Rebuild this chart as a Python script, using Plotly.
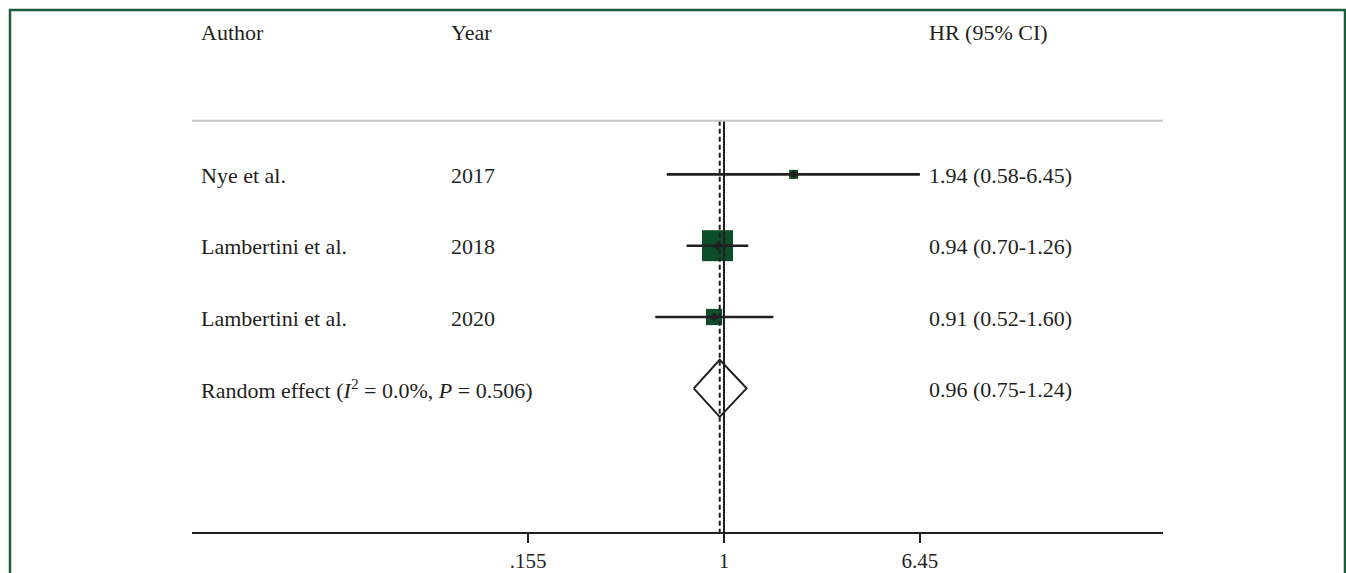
import plotly.graph_objects as go
import math

# ---- data ----
authors = ["Nye et al.", "Lambertini et al.", "Lambertini et al."]
years = ["2017", "2018", "2020"]
hr = [1.94, 0.94, 0.91]
lo = [0.58, 0.70, 0.52]
hi = [6.45, 1.26, 1.60]
weights = [4.5, 75.0, 20.6]
pooled_label = "Random effect (<i>I</i><sup>2</sup> = 0.0%, <i>P</i> = 0.506)"
pooled = [0.96, 0.75, 1.24]
tick_vals = [0.155, 1, 6.45]
tick_text = [".155", "1", "6.45"]
headers = ["Author", "Year", "HR (95% CI)"]

FONT = "Liberation Serif"
TXT = "#231f20"
GREEN = "#0b4f2a"
BORDER = "#1d5e3a"

W, H = 1346, 573
L, R, T, B = 192, 183, 0, 36
pw = W - L - R
ph = H - T - B
X1PX = 724.0      # pixel of HR = 1
PXDEC = 242.0     # pixels per decade
ROWPX = 72.0
ROW0 = 176.0
ytop = -ROW0 / ROWPX
ybot = (ph - ROW0) / ROWPX

def xp(px):
    return (px - L) / pw

def yp(py):
    return (H - B - py) / ph

rows = list(range(len(hr)))
prow = len(hr)

fig = go.Figure()

# squares (weighted)
sizes = [max(9, 3.58 * math.sqrt(w)) for w in weights]
fig.add_trace(go.Scatter(x=hr, y=rows, mode="markers",
                         marker=dict(symbol="square", size=sizes, color=GREEN, opacity=1,
                                     line=dict(width=0)),
                         hoverinfo="skip", showlegend=False))
# CI lines
cx, cy = [], []
for i in rows:
    cx += [lo[i], hi[i], None]
    cy += [i, i, None]
fig.add_trace(go.Scatter(x=cx, y=cy, mode="lines", line=dict(color=TXT, width=2.6),
                         hoverinfo="skip", showlegend=False))
# point estimates
fig.add_trace(go.Scatter(x=hr, y=rows, mode="markers",
                         marker=dict(symbol="diamond", size=7, color=TXT, opacity=1),
                         hoverinfo="skip", showlegend=False))
# pooled diamond
est, plo, phi = pooled
fig.add_trace(go.Scatter(x=[plo, est, phi, est, plo], y=[prow, prow - 0.4, prow, prow + 0.4, prow],
                         mode="lines", line=dict(color=TXT, width=2),
                         hoverinfo="skip", showlegend=False))

# vertical lines (shapes on log axis take data values)
fig.add_shape(type="line", xref="x", yref="y", x0=1, x1=1, y0=-0.75, y1=ybot,
              line=dict(color=TXT, width=2))
fig.add_shape(type="line", xref="x", yref="y", x0=est, x1=est, y0=-0.75, y1=ybot,
              line=dict(color=TXT, width=2, dash="5px,3px"))
# gray separator
fig.add_shape(type="line", xref="paper", yref="y", x0=0, x1=1, y0=-0.75, y1=-0.75,
              line=dict(color="#c8c8c8", width=2))
# green frame
fig.add_shape(type="rect", xref="paper", yref="paper", x0=xp(10), x1=xp(1345), y0=yp(590), y1=yp(10),
              line=dict(color=BORDER, width=2.5), fillcolor="rgba(0,0,0,0)", layer="above")

# text columns
ann = []
col_x = [xp(199), xp(449), xp(927)]
for j, h in enumerate(headers):
    ann.append(dict(x=col_x[j], y=-2, text=h))
for i in rows:
    ann.append(dict(x=col_x[0], y=i, text=authors[i]))
    ann.append(dict(x=col_x[1], y=i, text=years[i]))
    ann.append(dict(x=col_x[2], y=i, text=f"{hr[i]:.2f} ({lo[i]:.2f}-{hi[i]:.2f})"))
ann.append(dict(x=col_x[0], y=prow, text=pooled_label))
ann.append(dict(x=col_x[2], y=prow, text=f"{est:.2f} ({plo:.2f}-{phi:.2f})"))
for a in ann:
    a.update(xref="paper", yref="y", xanchor="left", yanchor="middle", showarrow=False, yshift=-1,
             font=dict(family=FONT, size=22, color=TXT))
fig.update_layout(annotations=ann)

xmin = -(X1PX - L) / PXDEC
xmax = (L + pw - X1PX) / PXDEC
fig.update_layout(
    width=W, height=H, margin=dict(l=L, r=R, t=T, b=B),
    paper_bgcolor="white", plot_bgcolor="white",
    xaxis=dict(type="log", range=[xmin, xmax], tickvals=tick_vals, ticktext=tick_text,
               showgrid=False, zeroline=False, showline=True, linecolor=TXT, linewidth=2,
               ticks="outside", ticklen=9, tickwidth=2, tickcolor=TXT,
               tickfont=dict(family=FONT, size=21, color=TXT)),
    yaxis=dict(range=[ybot, ytop], showgrid=False, zeroline=False, showticklabels=False, visible=False),
)

fig.write_html("out.html", config={"displayModeBar": False},
               post_script="document.body.style.margin='0';document.body.style.overflow='hidden';")
